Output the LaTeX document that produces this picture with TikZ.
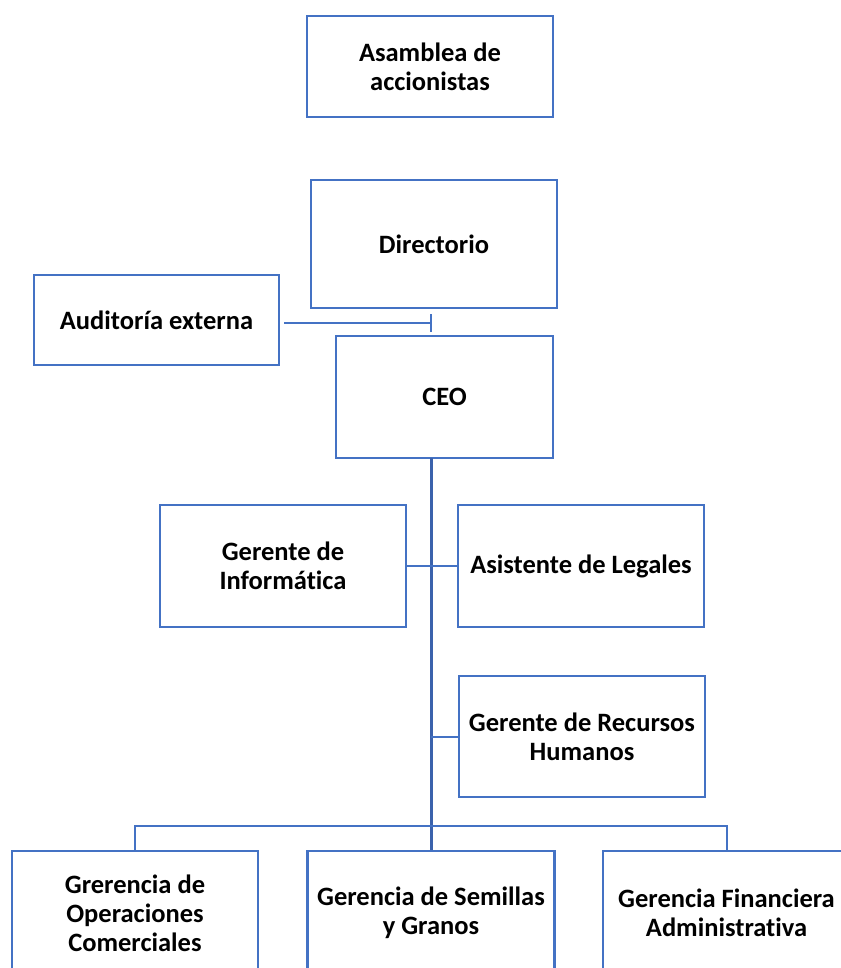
\documentclass[tikz,border=0pt]{standalone}
\usepackage{fontspec}
\setmainfont{Carlito}[Ligatures=NoCommon]
\usepackage{xcolor}
\usepackage{tikz}
\usetikzlibrary{arrows.meta}
\definecolor{boxblue}{HTML}{4472C4}
\definecolor{trunkblue}{HTML}{3B62AC}

\begin{document}
\begin{tikzpicture}[x=1pt,y=-1pt]
				\useasboundingbox (0,0) rectangle (840,968);
				\begin{scope}[every node/.style={draw=boxblue,line width=2.4pt,align=center,
						font=\fontsize{26.5}{29}\selectfont\bfseries,inner sep=0pt}]
					\node[minimum width=246,minimum height=101] (asamblea) at (430,66.5) {Asamblea de\\accionistas};
					\node[minimum width=246,minimum height=128] (directorio) at (434,244) {Directorio};
					\node[minimum width=245,minimum height=90] (auditoria) at (156.5,320) {Auditoría externa};
					\node[minimum width=217,minimum height=122] (ceo) at (444.5,397) {CEO};
					\node[minimum width=246,minimum height=122] (informatica) at (283,566) {Gerente de\\Informática};
					\node[minimum width=246,minimum height=122] (legales) at (581,566) {Asistente de Legales};
					\node[minimum width=246,minimum height=121] (rrhh) at (582,736.5) {Gerente de Recursos\\Humanos};
					\node[minimum width=246,minimum height=124] (operaciones) at (135,913) {Grerencia de\\Operaciones\\Comerciales};
					\node[minimum width=247,minimum height=124] (semillas) at (431,913) {Gerencia de Semillas\\y Granos};
					\node[minimum width=247,minimum height=124] (financiera) at (726.5,913) {Gerencia Financiera\\Administrativa};
				\end{scope}
				
				\coordinate (tick) at (432,323);
				\coordinate (trunk) at (431,458);
				\coordinate (bus) at (431,826);
				
				\begin{scope}[line width=2pt,draw=boxblue]
					\draw[-{Bar[width=18pt,line width=2pt]}] ([xshift=4pt]auditoria.east |- tick) -- (tick);
					\draw[trunkblue,line width=3pt] (trunk) -- (semillas.north);
					\draw (informatica.east) -- (legales.west);
					\draw (rrhh.west) -- (rrhh.west -| trunk);
					\draw (operaciones.north) |- (bus) -| (financiera.north);
				\end{scope}
			\end{tikzpicture}
\end{document}
